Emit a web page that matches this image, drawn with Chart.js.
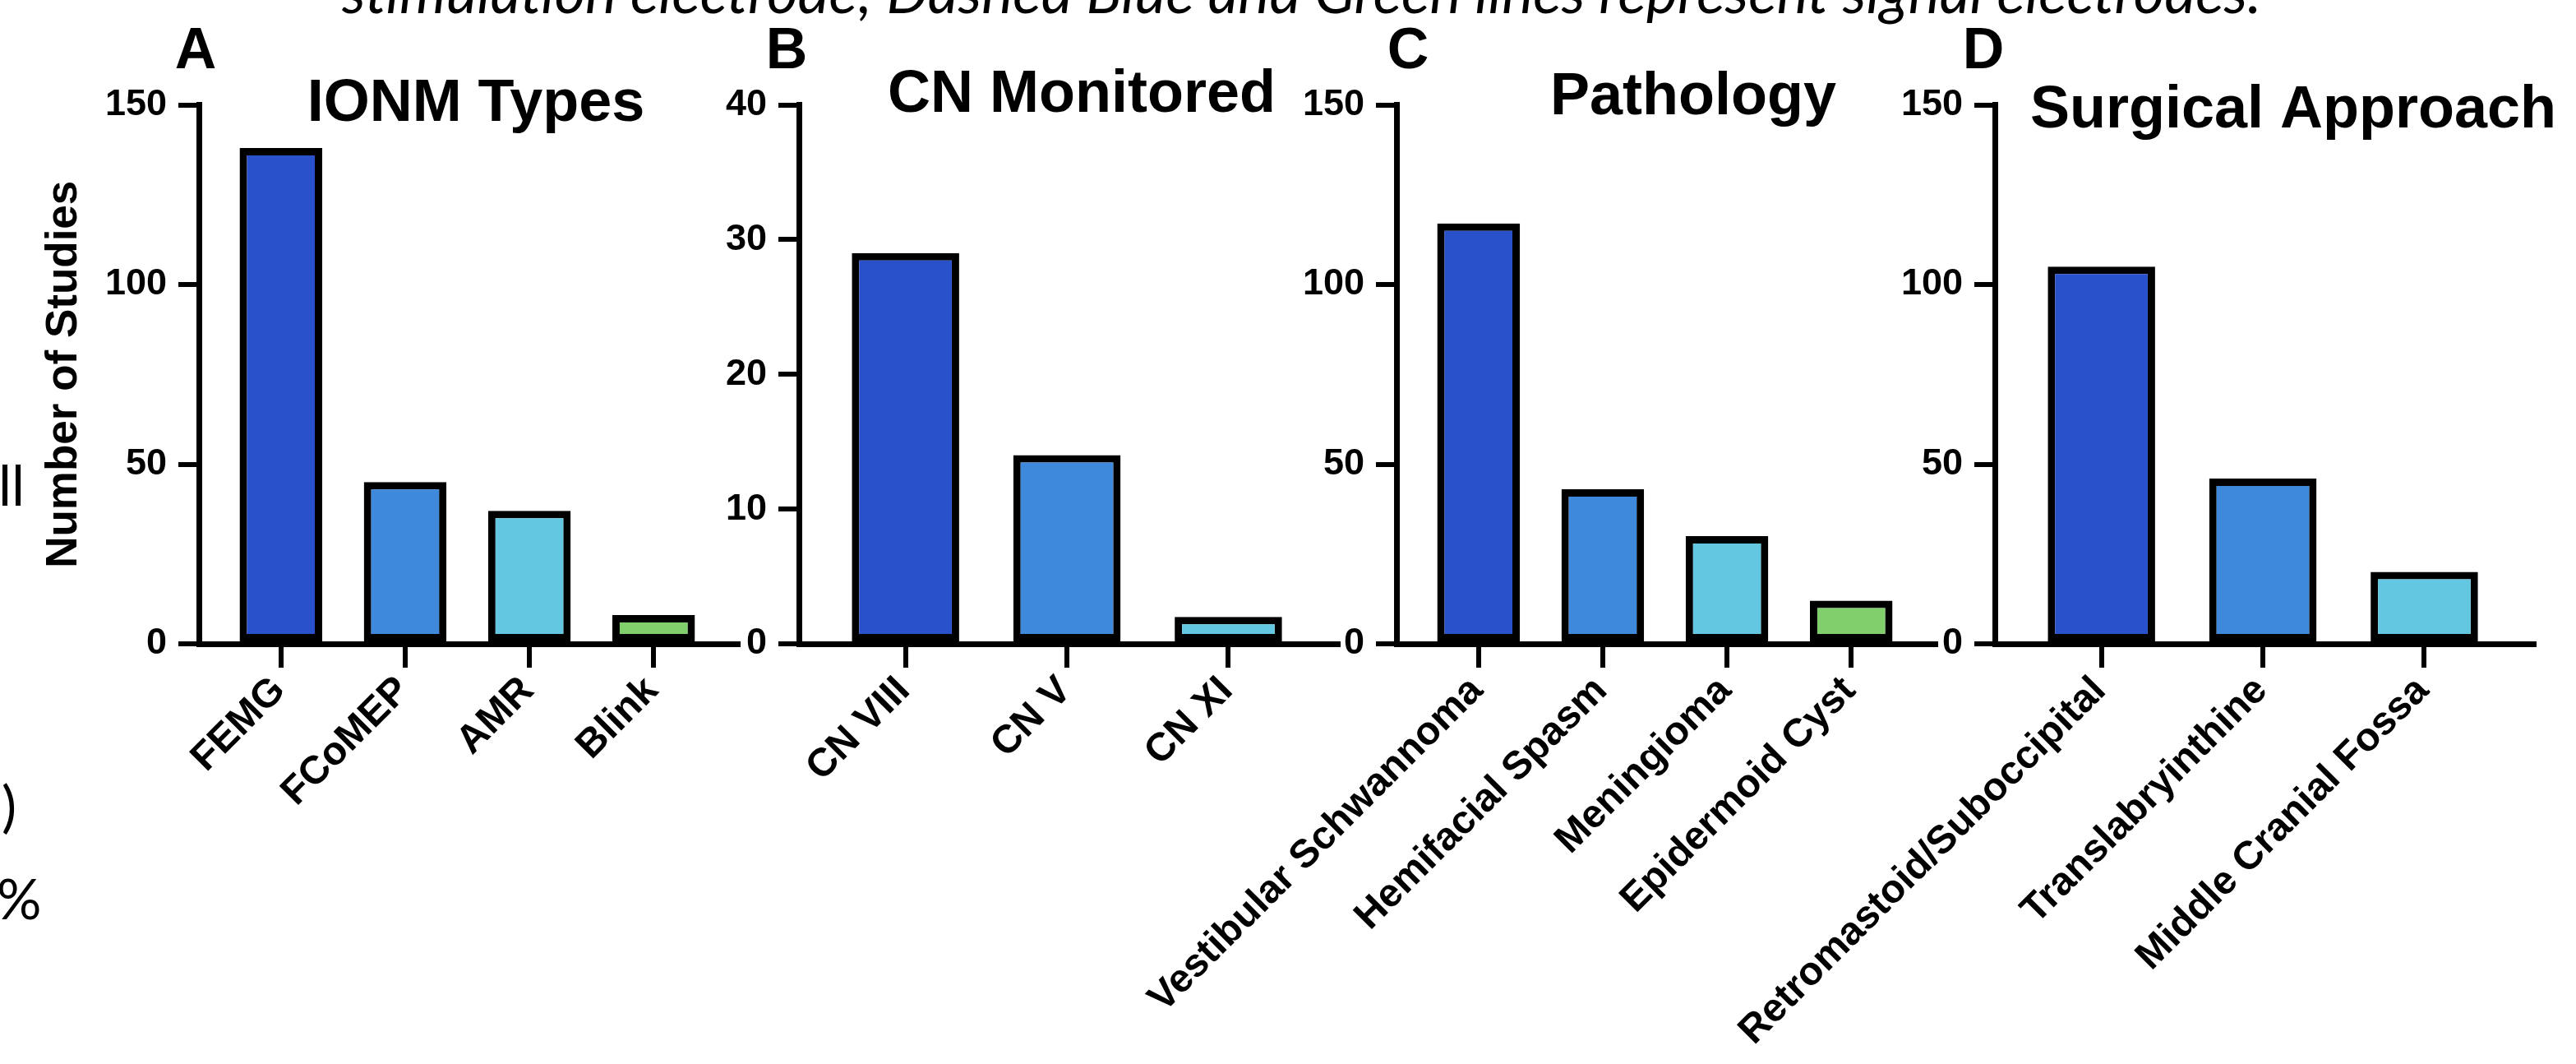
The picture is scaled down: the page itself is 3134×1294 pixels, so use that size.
<!DOCTYPE html>
<html>
<head>
<meta charset="utf-8">
<script src="https://cdn.jsdelivr.net/npm/chart.js@4.4.1/dist/chart.umd.min.js"></script>
<style>
  html, body { margin: 0; padding: 0; background: #fff; }
  #wrap { position: relative; width: 3134px; height: 1294px; overflow: hidden; background: #fff; }
  #wrap canvas { position: absolute; left: 0; top: 0; }
</style>
</head>
<body>
<div id="wrap">
  <canvas id="chartA" width="3134" height="1294"></canvas>
  <canvas id="chartB" width="3134" height="1294"></canvas>
  <canvas id="chartC" width="3134" height="1294"></canvas>
  <canvas id="chartD" width="3134" height="1294"></canvas>
</div>
<script>
// data
const ionmTypes = ['FEMG', 'FCoMEP', 'AMR', 'Blink'];
const ionmCounts = [138, 45, 37, 8];

const cnMonitored = ['CN VIII', 'CN V', 'CN XI'];
const cnCounts = [29, 14, 2];

const pathologies = ['Vestibular Schwannoma', 'Hemifacial Spasm', 'Meningioma', 'Epidermoid Cyst'];
const pathologyCounts = [117, 43, 30, 12];

const approaches = ['Retromastoid/Suboccipital', 'Translabryinthine', 'Middle Cranial Fossa'];
const approachCounts = [105, 46, 20];

const yTicks150 = [0, 50, 100, 150];
const yTicks40 = [0, 10, 20, 30, 40];

const barColors = ['#2951CC', '#3E89DC', '#64C7E1', '#81CE6C'];

const caption = 'stimulation electrode; Dashed Blue and Green lines represent signal electrodes.';

// layout (pixels)
const W = 3134, H = 1294;
const plotTop = 127.5, plotBottom = 783, plotWidth = 656, yBoxWidth = 242;
const FONT = '"Liberation Sans", Arial, Helvetica, sans-serif';

Chart.defaults.font.family = FONT;
Chart.defaults.color = '#000';

const panels = [
  { id: 'chartA', letter: 'A', title: 'IONM Types', cats: ionmTypes, counts: ionmCounts, yTicks: yTicks150,
    axisX: 242, letterX: 238, titleX: 579, titleY: 147, yTitle: 'Number of Studies' },
  { id: 'chartB', letter: 'B', title: 'CN Monitored', cats: cnMonitored, counts: cnCounts, yTicks: yTicks40,
    axisX: 972, letterX: 957, titleX: 1316, titleY: 136 },
  { id: 'chartC', letter: 'C', title: 'Pathology', cats: pathologies, counts: pathologyCounts, yTicks: yTicks150,
    axisX: 1699, letterX: 1713, titleX: 2060, titleY: 139 },
  { id: 'chartD', letter: 'D', title: 'Surgical Approach', cats: approaches, counts: approachCounts, yTicks: yTicks150,
    axisX: 2427, letterX: 2413, titleX: 2790, titleY: 155 }
];

// panel letter + title drawn over the plot
const panelText = {
  id: 'panelText',
  afterDraw(chart, args, opts) {
    const ctx = chart.ctx;
    ctx.save();
    ctx.fillStyle = '#000';
    ctx.textAlign = 'center';
    ctx.textBaseline = 'alphabetic';
    ctx.font = 'bold 70px ' + FONT;
    ctx.fillText(opts.letter, opts.letterX, 83);
    ctx.font = 'bold 72px ' + FONT;
    ctx.fillText(opts.title, opts.titleX, opts.titleY);
    ctx.restore();
  }
};

// cropped caption and stray characters at the page edges
const pageText = {
  id: 'pageText',
  afterDraw(chart, args, opts) {
    if (!opts.show) return;
    const ctx = chart.ctx;
    ctx.save();
    ctx.fillStyle = '#000';
    ctx.textBaseline = 'alphabetic';
    ctx.textAlign = 'left';
    ctx.font = 'italic 70px Lato, "Open Sans", sans-serif';
    const size = 70 * 2334 / ctx.measureText(caption).width;
    ctx.font = 'italic ' + size.toFixed(1) + 'px Lato, "Open Sans", sans-serif';
    ctx.fillText(caption, 416, 16);
    ctx.font = '68px Lato, "Open Sans", sans-serif';
    ctx.fillText('ll', -2, 615);
    ctx.fillText(')', 2, 1005);
    ctx.fillText('%', -4, 1118);
    ctx.restore();
  }
};

panels.forEach((p, k) => {
  const n = p.cats.length;
  const yMax = p.yTicks[p.yTicks.length - 1];
  new Chart(document.getElementById(p.id), {
    type: 'bar',
    data: {
      datasets: [{
        data: p.counts.map((v, i) => ({ x: i, y: v })),
        backgroundColor: barColors.slice(0, n),
        borderColor: '#000',
        borderWidth: 9,
        borderSkipped: false,
        categoryPercentage: 1,
        barPercentage: 0.665
      }]
    },
    options: {
      responsive: false,
      animation: false,
      events: [],
      layout: {
        padding: { left: p.axisX - yBoxWidth, right: W - p.axisX - plotWidth, top: plotTop, bottom: 0 }
      },
      scales: {
        x: {
          type: 'linear',
          min: -0.66,
          max: n - 1 + 0.68,
          offset: false,
          afterBuildTicks: s => { s.ticks = p.cats.map((c, i) => ({ value: i })); },
          afterFit: s => { s.height = H - plotBottom; },
          grid: { display: true, offset: false, drawOnChartArea: false, drawTicks: true,
                  tickLength: 29, tickWidth: 6, tickColor: '#000', color: '#000', lineWidth: 6 },
          border: { display: true, color: '#000', width: 7 },
          ticks: {
            autoSkip: false, minRotation: 45, maxRotation: 45,
            padding: 0, labelOffset: -2,
            font: { size: 48, weight: 'bold' }, color: '#000',
            callback: v => p.cats[Math.round(v)]
          }
        },
        y: {
          min: 0,
          max: yMax,
          afterBuildTicks: s => { s.ticks = p.yTicks.map(v => ({ value: v })); },
          afterFit: s => { s.width = yBoxWidth; },
          grid: { display: true, drawOnChartArea: false, drawTicks: true,
                  tickLength: 25, tickWidth: 6, tickColor: '#000', color: '#000', lineWidth: 6 },
          border: { display: true, color: '#000', width: 7 },
          ticks: { padding: 14, font: { size: 45, weight: 'bold' }, color: '#000' },
          title: {
            display: !!p.yTitle,
            text: p.yTitle || '',
            font: { size: 53, weight: 'bold' },
            color: '#000',
            padding: { top: 47, bottom: 0 }
          }
        }
      },
      plugins: {
        legend: { display: false },
        tooltip: { enabled: false },
        panelText: { letter: p.letter, letterX: p.letterX, title: p.title, titleX: p.titleX, titleY: p.titleY },
        pageText: { show: k === 0 }
      }
    },
    plugins: [panelText, pageText]
  });
});
</script>
</body>
</html>
